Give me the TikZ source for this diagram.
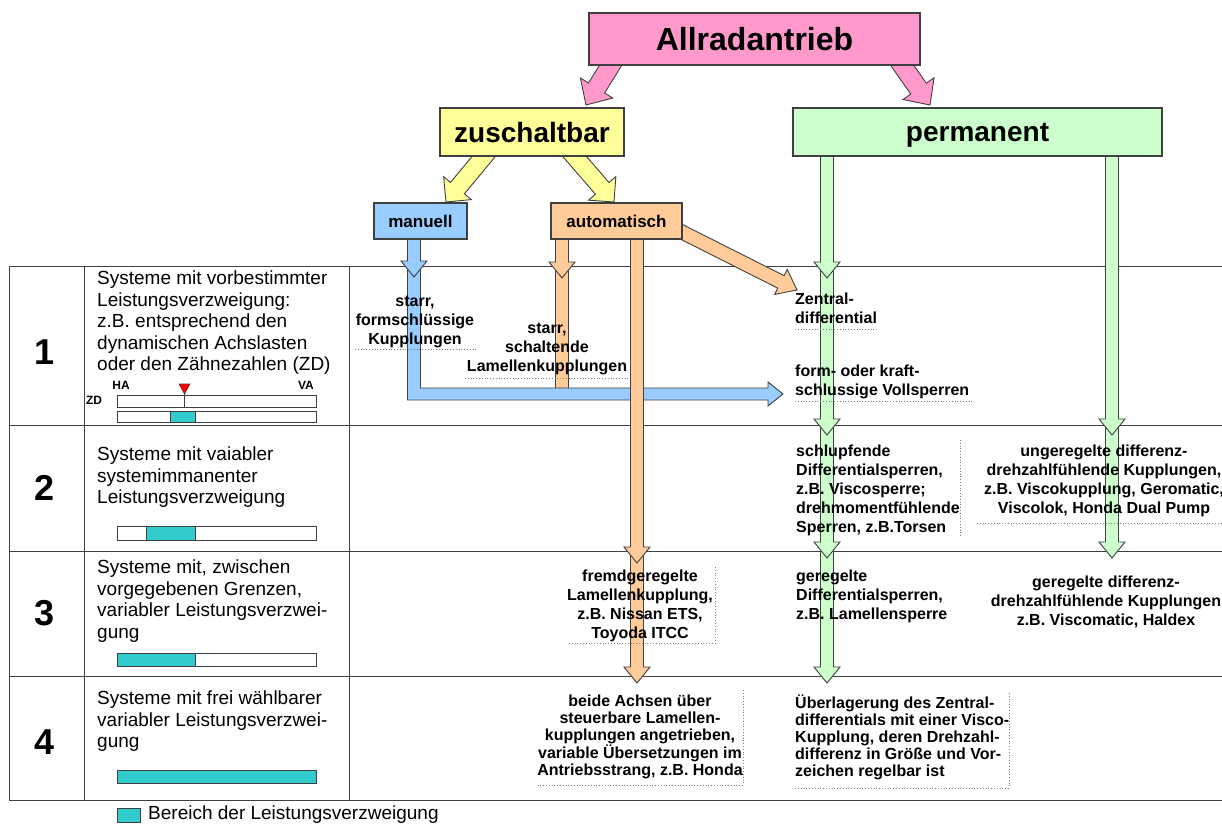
\documentclass[tikz,border=0pt]{standalone}
\usepackage{fontspec}
\setmainfont{Liberation Sans}
\usetikzlibrary{calc}
\definecolor{pinkc}{HTML}{FF99CC}
\definecolor{yellowc}{HTML}{FFFF99}
\definecolor{greenc}{HTML}{CCFFCC}
\definecolor{bluec}{HTML}{99CCFF}
\definecolor{orangec}{HTML}{FFCC99}
\definecolor{tealc}{HTML}{33CCCC}
\definecolor{edgec}{HTML}{404040}
% block arrow: #1 fill, #2 from, #3 to, #4 shaft half width, #5 head half width, #6 head length
\newcommand{\barrow}[6]{%
  \coordinate (bah) at ($(#3)!#6!(#2)$);
  \draw[arrowedge, fill=#1] ($(#2)!#4!90:(#3)$) -- ($(bah)!#4!90:(#3)$) -- ($(bah)!#5!90:(#3)$) -- (#3)
    -- ($(bah)!#5!-90:(#3)$) -- ($(bah)!#4!-90:(#3)$) -- ($(#2)!#4!-90:(#3)$) -- cycle;
}
\newcommand{\varrow}[3]{\barrow{#1}{#2}{#3}{6.5pt}{13pt}{16pt}}
\begin{document}
\begin{tikzpicture}[x=1pt,y=-1pt,
  box/.style={draw=edgec, line width=1.2pt, inner sep=0pt, text depth=0pt},
  arrowedge/.style={draw=edgec, line width=0.9pt, line join=miter},
  grid/.style={draw=edgec, line width=1pt},
  lbl/.style={inner sep=0pt, font=\fontsize{16}{18.8}\selectfont\bfseries},
  lblf/.style={inner sep=0pt, font=\fontsize{16}{17}\selectfont\bfseries},
  desc/.style={inner sep=0pt, anchor=north west, align=left, font=\fontsize{19}{21.5}\selectfont},
  num/.style={inner sep=0pt, font=\fontsize{36}{40}\selectfont\bfseries},
  dots/.style={draw=gray, dotted, line width=0.8pt},
  bar/.style={draw=edgec, line width=1pt, fill=white},
  small/.style={inner sep=0pt, font=\fontsize{12}{14}\selectfont\bfseries},
]
\useasboundingbox (0,0) rectangle (1222,825);
\fill[white] (0,0) rectangle (1222,825);

% ---------- table ----------
\foreach \yy in {266,425,551,676,800} {\draw[grid] (9,\yy) -- (1222,\yy);}
\foreach \xx in {9,84,349} {\draw[grid] (\xx,266) -- (\xx,800);}

\node[num] (n1) at (45,352) {1};
\node[num] (n2) at (45,488) {2};
\node[num] (n3) at (45,613) {3};
\node[num] (n4) at (45,742) {4};

\node[desc] (d1) at (97,271) {Systeme mit vorbestimmter\\Leistungsverzweigung:\\z.B. entsprechend den\\dynamischen Achslasten\\oder den Zähnezahlen (ZD)};
\node[desc] (d2) at (97,447) {Systeme mit vaiabler\\systemimmanenter\\Leistungsverzweigung};
\node[desc] (d3) at (97,560) {Systeme mit, zwischen\\vorgegebenen Grenzen,\\variabler Leistungsverzwei-\\gung};
\node[desc] (d4) at (97,691) {Systeme mit frei wählbarer\\variabler Leistungsverzwei-\\gung};

% bars
\node[small] (ha) at (121,385) {HA};
\node[small] (va) at (306,385) {VA};
\node[small] (zd) at (94,400) {ZD};
\draw[bar] (117,395) rectangle (316,407);
\draw[edgec, line width=1pt] (184,393) -- (184,407);
\draw[fill=red, draw=edgec, line width=0.6pt] (179,384) -- (190,384) -- (184.5,394) -- cycle;
\draw[bar] (117,411) rectangle (316,422);
\draw[bar, fill=tealc] (170,411) rectangle (195,422);
\draw[bar] (117,526) rectangle (316,540);
\draw[bar, fill=tealc] (146,526) rectangle (195,540);
\draw[bar] (117,653) rectangle (316,666);
\draw[bar, fill=tealc] (117,653) rectangle (195,666);
\draw[bar, fill=tealc] (117,770) rectangle (316,783);

% legend
\draw[bar, fill=tealc] (117,808) rectangle (140,822);
\node[inner sep=0pt, anchor=west, font=\fontsize{19}{21}\selectfont] (leg) at (148,815) {Bereich der Leistungsverzweigung};

% ---------- coordinates for connectors ----------
\coordinate (pl0) at (617,55);  \coordinate (pl1) at (586,105);
\coordinate (pr0) at (895,55);  \coordinate (pr1) at (930,105);
\coordinate (yl0) at (489,150); \coordinate (yl1) at (446,202);
\coordinate (yr0) at (569,150); \coordinate (yr1) at (614,202);

\coordinate (bl0) at (414,235); \coordinate (bl1) at (414,277);
\coordinate (bl2) at (414,394); \coordinate (bl3) at (783,394);

\coordinate (os0) at (562,235); \coordinate (os1) at (562,278);
\coordinate (ol0) at (637,235); \coordinate (ol1) at (637,563);
\coordinate (ol1s) at (637,551); \coordinate (ol2) at (637,683);
\coordinate (od0) at (662,222); \coordinate (od1) at (797,290);

\coordinate (gl0) at (827,150); \coordinate (gl1) at (827,278);
\coordinate (gl1s) at (827,266); \coordinate (gl2) at (827,435);
\coordinate (gl2s) at (827,423); \coordinate (gl3) at (827,558);
\coordinate (gl3s) at (827,546); \coordinate (gl4) at (827,683);
\coordinate (gr0) at (1112,150); \coordinate (gr1) at (1112,435);
\coordinate (gr1s) at (1112,423); \coordinate (gr2) at (1112,558);

% ---------- connectors ----------
% orange short shaft continuation
\draw[arrowedge, fill=orangec] ($(os1)+(-6.5,-12)$) rectangle ($(os1)+(6.5,110)$);
\varrow{orangec}{os0}{os1}
% blue bent arrow
\draw[arrowedge, fill=bluec] ($(bl1)+(-6.5,-12)$) -- ($(bl2)+(-6.5,6)$) -- ($(bl3)+(-15,6)$) -- ($(bl3)+(-15,12)$) -- (bl3)
  -- ($(bl3)+(-15,-12)$) -- ($(bl3)+(-15,-6)$) -- ($(bl2)+(6.5,-6)$) -- ($(bl1)+(6.5,-12)$) -- cycle;
\varrow{bluec}{bl0}{bl1}
% orange long
\varrow{orangec}{ol1s}{ol2}
\varrow{orangec}{ol0}{ol1}
% orange diagonal
\barrow{orangec}{od0}{od1}{7pt}{14pt}{18pt}
% green
\varrow{greenc}{gl3s}{gl4}
\varrow{greenc}{gl2s}{gl3}
\varrow{greenc}{gl1s}{gl2}
\varrow{greenc}{gl0}{gl1}
\varrow{greenc}{gr1s}{gr2}
\varrow{greenc}{gr0}{gr1}
% pink and yellow
\barrow{pinkc}{pl0}{pl1}{9.5pt}{19pt}{20pt}
\barrow{pinkc}{pr0}{pr1}{9.5pt}{19pt}{20pt}
\barrow{yellowc}{yl0}{yl1}{9pt}{18pt}{18pt}
\barrow{yellowc}{yr0}{yr1}{9pt}{18pt}{18pt}

% ---------- boxes ----------
\node[box, fill=pinkc, minimum width=331, minimum height=52, font=\fontsize{32}{36}\selectfont\bfseries] (allrad) at (754.5,39) {Allradantrieb};
\node[box, fill=yellowc, minimum width=184, minimum height=48, font=\fontsize{28}{32}\selectfont\bfseries] (zusch) at (532,132) {zuschaltbar};
\node[box, fill=greenc, minimum width=369, minimum height=48, font=\fontsize{28}{32}\selectfont\bfseries] (perm) at (977.5,132) {permanent};
\node[box, fill=bluec, minimum width=93, minimum height=36, font=\fontsize{17}{20}\selectfont\bfseries] (man) at (420.5,221) {manuell};
\node[box, fill=orangec, minimum width=131, minimum height=36, font=\fontsize{17}{20}\selectfont\bfseries] (auto) at (616.5,221) {automatisch};

% ---------- labels ----------
\node[lbl, align=center, anchor=north] (l1a) at (415,296) {starr,\\formschlüssige\\Kupplungen};
\node[lbl, align=center, anchor=north] (l1b) at (547,323) {starr,\\schaltende\\Lamellenkupplungen};
\node[lbl, align=left, anchor=north west] (l1c) at (795,293) {Zentral-\\differential};
\node[lbl, align=left, anchor=north west] (l1d) at (795,365) {form- oder kraft-\\schlussige Vollsperren};
\node[lbl, align=left, anchor=north west] (l2a) at (796,445) {schlupfende\\Differentialsperren,\\z.B. Viscosperre;\\drehmomentfühlende\\Sperren, z.B.Torsen};
\node[lbl, align=center, anchor=north] (l2b) at (1104,445) {ungeregelte differenz-\\drehzahlfühlende Kupplungen,\\z.B. Viscokupplung, Geromatic,\\Viscolok, Honda Dual Pump};
\node[lbl, align=center, anchor=north] (l3a) at (640,570) {fremdgeregelte\\Lamellenkupplung,\\z.B. Nissan ETS,\\Toyoda ITCC};
\node[lbl, align=left, anchor=north west] (l3b) at (796,570) {geregelte\\Differentialsperren,\\z.B. Lamellensperre};
\node[lbl, align=center, anchor=north] (l3c) at (1106,576) {geregelte differenz-\\drehzahlfühlende Kupplungen\\z.B. Viscomatic, Haldex};
\node[lblf, align=center, anchor=north] (l4a) at (640,695) {beide Achsen über\\steuerbare Lamellen-\\kupplungen angetrieben,\\variable Übersetzungen im\\Antriebsstrang, z.B. Honda};
\node[lblf, align=left, anchor=north west] (l4b) at (795,695) {Überlagerung des Zentral-\\differentials mit einer Visco-\\Kupplung, deren Drehzahl-\\differenz in Größe und Vor-\\zeichen regelbar ist};

% dotted frames
\draw[dots] (355,349) -- (476,349);
\draw[dots] (465,378) -- (628,378);
\draw[dots] (795,329) -- (878,329);
\draw[dots] (795,401) -- (972,401);
\draw[dots] (960,440) -- (960,538);
\draw[dots] (977,523) -- (1222,523);
\draw[dots] (715,567) -- (715,643) -- (567,643);
\draw[dots] (743,690) -- (743,785) -- (536,785);
\draw[dots] (1009,693) -- (1009,788) -- (795,788);
\end{tikzpicture}
\end{document}
